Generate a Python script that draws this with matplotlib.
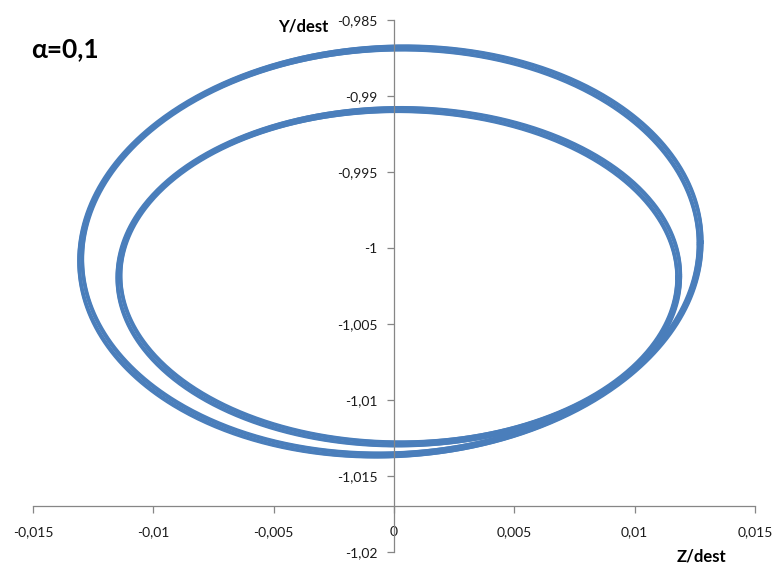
import numpy as np
import matplotlib
matplotlib.use("Agg")
import matplotlib.pyplot as plt
from matplotlib.ticker import FuncFormatter

plt.rcParams['font.family'] = ['Lato', 'DejaVu Sans']

# orbit loops (centre, half widths, tilt term), 4 strands each
outer_cx = [-0.00015, -0.00015, -0.00022, -0.00008]
outer_cy = [-1.00023, -1.00023, -1.00035, -1.00011]
outer_ax = [0.01294, 0.01280, 0.01287, 0.01287]
outer_by = [0.01348, 0.01328, 0.01338, 0.01338]
outer_s = [0.00056, 0.00056, 0.00056, 0.00056]

inner_cx = [0.00020, 0.00020, 0.00013, 0.00027]
inner_cy = [-1.00189, -1.00189, -1.00201, -1.00177]
inner_ax = [0.01170, 0.01156, 0.01163, 0.01163]
inner_by = [0.01110, 0.01090, 0.01100, 0.01100]
inner_s = [0.0, 0.0, 0.0, 0.0]

x_ticks = [-0.015, -0.01, -0.005, 0, 0.005, 0.01, 0.015]
y_ticks = [-0.985, -0.99, -0.995, -1, -1.005, -1.01, -1.015, -1.02]

blue = '#4a7ebb'
grey = '#868686'

fig = plt.figure(figsize=(7.78, 5.66), dpi=100)
ax = fig.add_axes([33/778, 14/566, 722/778, 532/566])

t = np.linspace(0, 2*np.pi, 721)
for cx, cy, a, b, s in zip(outer_cx + inner_cx, outer_cy + inner_cy,
                           outer_ax + inner_ax, outer_by + inner_by,
                           outer_s + inner_s):
    ax.plot(cx + a*np.cos(t), cy + b*np.sin(t) + s*np.cos(t),
            color=blue, lw=2.5, solid_capstyle='round')

ax.set_xlim(-0.015, 0.015)
ax.set_ylim(-1.02, -0.985)
ax.set_xticks(x_ticks)
ax.set_yticks(y_ticks)

def comma(v, pos):
    if abs(v) < 1e-12:
        return '0'
    return ('%g' % round(v, 4)).replace('.', ',')

ax.xaxis.set_major_formatter(FuncFormatter(comma))
ax.yaxis.set_major_formatter(FuncFormatter(comma))

ax.spines['top'].set_visible(False)
ax.spines['right'].set_visible(False)
ax.spines['left'].set_position(('data', 0))
ax.spines['bottom'].set_position(('data', -1.017))
for sp in ('left', 'bottom'):
    ax.spines[sp].set_color(grey)
    ax.spines[sp].set_linewidth(0.9)

ax.tick_params(axis='x', direction='out', length=5, width=0.9, color=grey,
               labelsize=10, labelcolor='#1a1a1a', pad=9)
ax.tick_params(axis='y', direction='out', length=5, width=0.9, color=grey,
               labelsize=10, labelcolor='#1a1a1a', pad=7)
ax.patch.set_visible(False)

fig.text(303/778, 1 - 27/566, 'Y/dest', fontsize=12, fontweight='bold',
         ha='center', va='center')
fig.text(701/778, 1 - 557/566, 'Z/dest', fontsize=12, fontweight='bold',
         ha='center', va='center')
fig.text(31/778, 1 - 49/566, 'α=0,1', fontsize=19, fontweight='bold',
         ha='left', va='center')

fig.savefig('out.png', dpi=100)
